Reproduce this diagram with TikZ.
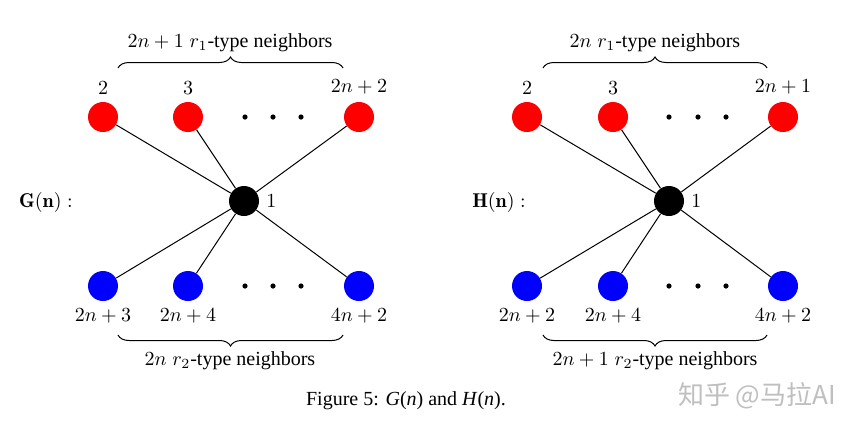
\documentclass[tikz,border=0pt]{standalone}
\usepackage{fontspec}
\newfontfamily\capfont{Liberation Serif}
\newfontfamily\cjkfont{Noto Sans CJK SC}
\usetikzlibrary{decorations.pathreplacing}
\begin{document}
\begin{tikzpicture}[x=0.5pt,y=-0.5pt,
 vtx/.style={circle,minimum size=15pt,inner sep=0pt},
 rv/.style={vtx,fill=red},
 bv/.style={vtx,fill=blue},
 cv/.style={vtx,fill=black},
 dotv/.style={circle,fill=black,minimum size=2.6pt,inner sep=0pt},
 edge/.style={draw,line width=0.5pt},
 brc/.style={draw,decorate,decoration={brace,amplitude=5.5pt},line width=0.5pt},
 txt/.style={anchor=base,inner sep=0pt},
 lab/.style={font=\capfont\fontsize{10}{12}\selectfont}]
\useasboundingbox (0,0) rectangle (858,430);
\fill[white] (0,0) rectangle (858,430);

% ---------- G(n) ----------
\node[cv,label={[lab]right:$1$}] (g1) at (244,201) {};
\node[rv,label={[lab]above:$2$}] (g2) at (103,117) {};
\node[rv,label={[lab]above:$3$}] (g3) at (188,117) {};
\node[rv,label={[lab]above:$2n+2$}] (g4) at (359,117) {};
\node[bv,label={[lab]below:$2n+3$}] (g5) at (103,286) {};
\node[bv,label={[lab]below:$2n+4$}] (g6) at (188,286) {};
\node[bv,label={[lab]below:$4n+2$}] (g7) at (359,286) {};
\node[dotv] (gd1) at (245,117) {};
\node[dotv] (gd2) at (273,117) {};
\node[dotv] (gd3) at (301,117) {};
\node[dotv] (gd4) at (245,286) {};
\node[dotv] (gd5) at (273,286) {};
\node[dotv] (gd6) at (301,286) {};
\foreach \v in {g2,g3,g4,g5,g6,g7} \path[edge] (g1) -- (\v);
\coordinate (gbt1) at (118,68);
\coordinate (gbt2) at (343,68);
\coordinate (gbb1) at (118,335);
\coordinate (gbb2) at (343,335);
\path[brc] (gbt1) -- (gbt2);
\path[brc] (gbb2) -- (gbb1);
\node[txt,lab] (gtop) at (230,47) {$2n+1\;r_1$-type neighbors};
\node[txt,lab] (gbot) at (230,365) {$2n\;r_2$-type neighbors};
\node[txt,lab] (gname) at (46,207) {$\mathbf{G(n)}:$};

% ---------- H(n) ----------
\node[cv,label={[lab]right:$1$}] (h1) at (669,201) {};
\node[rv,label={[lab]above:$2$}] (h2) at (527,117) {};
\node[rv,label={[lab]above:$3$}] (h3) at (613,117) {};
\node[rv,label={[lab]above:$2n+1$}] (h4) at (783,117) {};
\node[bv,label={[lab]below:$2n+2$}] (h5) at (527,286) {};
\node[bv,label={[lab]below:$2n+4$}] (h6) at (613,286) {};
\node[bv,label={[lab]below:$4n+2$}] (h7) at (783,286) {};
\node[dotv] (hd1) at (669,117) {};
\node[dotv] (hd2) at (698,117) {};
\node[dotv] (hd3) at (726,117) {};
\node[dotv] (hd4) at (669,286) {};
\node[dotv] (hd5) at (698,286) {};
\node[dotv] (hd6) at (726,286) {};
\foreach \v in {h2,h3,h4,h5,h6,h7} \path[edge] (h1) -- (\v);
\coordinate (hbt1) at (543,68);
\coordinate (hbt2) at (767,68);
\coordinate (hbb1) at (543,335);
\coordinate (hbb2) at (767,335);
\path[brc] (hbt1) -- (hbt2);
\path[brc] (hbb2) -- (hbb1);
\node[txt,lab] (htop) at (655,47) {$2n\;r_1$-type neighbors};
\node[txt,lab] (hbot) at (655,365) {$2n+1\;r_2$-type neighbors};
\node[txt,lab] (hname) at (499,207) {$\mathbf{H(n)}:$};

% ---------- caption and watermark ----------
\node[txt,lab] (cap) at (406,405)
  {Figure 5: \textit{G}(\textit{n}) and \textit{H}(\textit{n}).};
\node[txt,font=\cjkfont\fontsize{13}{15}\selectfont,text=black!25] (wm) at (757,404)
  {知乎\ @马拉AI};
\end{tikzpicture}
\end{document}
